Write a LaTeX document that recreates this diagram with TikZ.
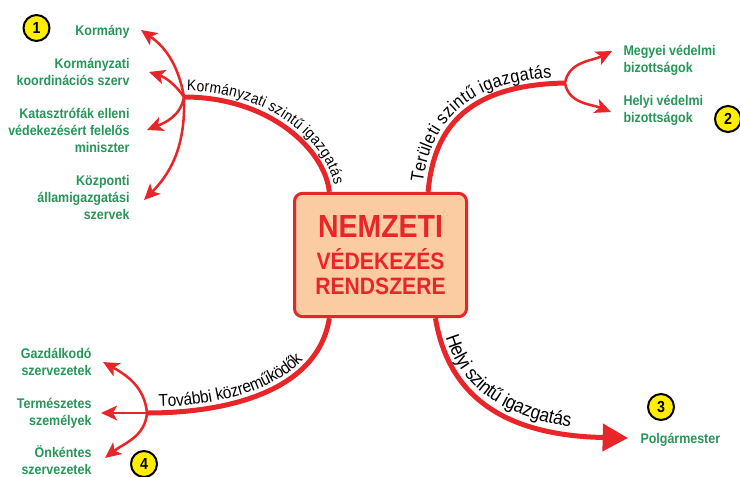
\documentclass[tikz,border=0pt]{standalone}
\usepackage{fontspec}
\setmainfont{Liberation Sans}
\newfontfamily\narrowsans[FakeStretch=0.89]{Liberation Sans}
\newfontfamily\curvesans[FakeStretch=0.9]{Liberation Sans}
\usetikzlibrary{arrows.meta,decorations.text,calc}

\definecolor{branchred}{RGB}{232,38,42}
\definecolor{boxfill}{RGB}{251,203,162}
\definecolor{itemgreen}{RGB}{38,150,88}
\definecolor{badgeyellow}{RGB}{255,238,0}

\newcommand{\itemfont}{\narrowsans\bfseries\fontsize{10.5}{12.75}\selectfont}

\tikzset{every picture/.style={line width=0.75pt}}
\tikzset{
  itemleft/.style={font=\itemfont, text=itemgreen, inner sep=0pt, align=right, anchor=east},
  itemright/.style={font=\itemfont, text=itemgreen, inner sep=0pt, align=left, anchor=west},
  mainbranch/.style={draw=branchred, line width=3.75pt},
  subarrow/.style={draw=branchred, line width=1.9pt, -{Stealth[length=12pt,width=11pt,inset=3pt]}},
  badge/.style={circle, draw=black, line width=1.5pt, fill=badgeyellow, inner sep=0pt, minimum size=19.5pt, font=\narrowsans\bfseries\fontsize{12}{12}\selectfont},
  curvelabel/.style n args={3}{postaction={decorate, decoration={text along path, text={|\curvesans\fontsize{#3}{#3}\selectfont|#1}, text align={left indent=#2}, raise=4.5pt, text color=black}}},
  centrebox/.style={draw=branchred, line width=2.25pt, fill=boxfill, rounded corners=6pt, minimum width=129pt, minimum height=92.5pt, inner sep=0pt, align=center, text=branchred, font=\narrowsans\bfseries\fontsize{17.8}{18.75}\selectfont}
}

\begin{document}
\begin{tikzpicture}[x=0.75pt,y=0.75pt]
    \useasboundingbox (0,0) rectangle (740,-476);

    % centre box
    \node[centrebox] (nvr) at (380.5,-255) {{\fontsize{24}{24}\selectfont NEMZETI}\\[5.25pt]VÉDEKEZÉS\\RENDSZERE};

    % branch points
    \coordinate (kbr) at (184,-97);
    \coordinate (tbr) at (565,-83);
    \coordinate (fbr) at (147,-413);

    % Text Node - kormanyzati szint
    \node[itemleft] (kormany) at (130,-31.5) {Kormány};
    \node[itemleft] (koord) at (130,-72) {Kormányzati\\koordinációs szerv};
    \node[itemleft] (kataszt) at (130,-130) {Katasztrófák elleni\\védekezésért felelős\\miniszter};
    \node[itemleft] (kozpont) at (130,-197) {Központi\\államigazgatási\\szervek};
    % Text Node - teruleti szint
    \node[itemright] (megyei) at (623,-60) {Megyei védelmi\\bizottságok};
    \node[itemright] (helyibiz) at (623,-110) {Helyi védelmi\\bizottságok};
    % Text Node - helyi szint
    \node[itemright] (polg) at (640,-440) {Polgármester};
    % Text Node - tovabbi kozremukodok
    \node[itemleft] (gazd) at (92,-362) {Gazdálkodó\\szervezetek};
    \node[itemleft] (termesz) at (92,-413) {Természetes\\személyek};
    \node[itemleft] (onkent) at (92,-460) {Önkéntes\\szervezetek};

    % badges
    \node[badge] (b1) at (36.5,-28) {1};
    \node[badge] (b2) at (728,-119) {2};
    \node[badge] (b3) at (661,-407) {3};
    \node[badge] (b4) at (144,-464) {4};

    % main branches
    \draw[mainbranch, curvelabel={Kormányzati szintű igazgatás}{2pt}{11.5pt}] (kbr) .. controls (270,-97) and (325,-150) .. (nvr.129);
    \draw[mainbranch, curvelabel={Területi szintű igazgatás}{6pt}{13.6pt}] (nvr.53) .. controls (434,-125) and (470,-85) .. (tbr);
    \draw[mainbranch, -{Triangle[length=19pt,width=20pt]}] (nvr.-49) .. controls (445,-375) and (480,-435) .. ($(polg.west)+(-12,2)$);
    \path[curvelabel={Helyi szintű igazgatás}{16pt}{14.6pt}] (nvr.-49) .. controls (445,-375) and (480,-435) .. ($(polg.west)+(-12,2)$);
    \draw[mainbranch, curvelabel={További közreműködők}{9pt}{12.9pt}] (fbr) .. controls (230,-413) and (318,-390) .. (nvr.-129);

    % sub arrows
    \draw[subarrow] (kbr) to[out=100,in=-35] ($(kormany.east)+(11,1.5)$);
    \draw[subarrow] (kbr) to[out=125,in=-18] ($(koord.east)+(19,0)$);
    \draw[subarrow] (kbr) to[out=-100,in=22] ($(kataszt.east)+(17,0)$);
    \draw[subarrow] (kbr) to[out=-88,in=45] ($(kozpont.east)+(14,-3)$);

    \draw[subarrow] (tbr) to[out=80,in=207] ($(megyei.west)+(-11,9)$);
    \draw[subarrow] (tbr) to[out=-80,in=158] ($(helyibiz.west)+(-12,-2)$);

    \draw[subarrow] (fbr) to[out=95,in=-29] ($(gazd.east)+(11,0)$);
    \draw[subarrow] (fbr) -- ($(termesz.east)+(9,0)$);
    \draw[subarrow] (fbr) to[out=-95,in=38] ($(onkent.east)+(13,2)$);
\end{tikzpicture}
\end{document}
